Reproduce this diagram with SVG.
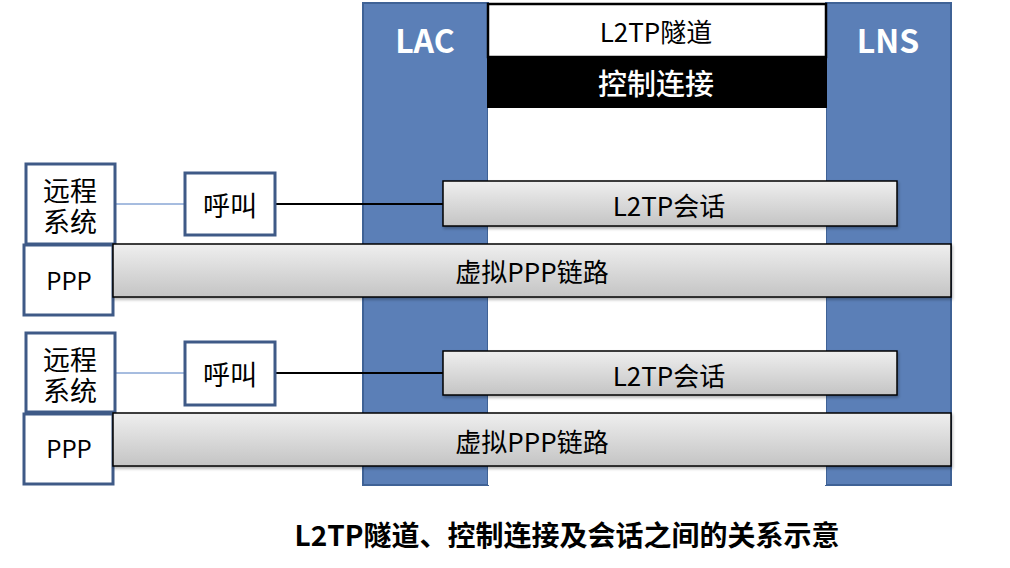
<svg xmlns="http://www.w3.org/2000/svg" width="1010" height="568" viewBox="0 0 1010 568">
<defs>
<linearGradient id="g" x1="0" y1="0" x2="0" y2="1">
<stop offset="0" stop-color="#efefef"/>
<stop offset="1" stop-color="#c4c4c4"/>
</linearGradient>
<filter id="sh" x="-5%" y="-20%" width="110%" height="150%">
<feDropShadow dx="1" dy="2" stdDeviation="1.5" flood-color="#000" flood-opacity="0.3"/>
</filter>
</defs>
<style>
text{font-family:"Noto Sans CJK SC","Noto Sans",sans-serif;text-anchor:middle;dominant-baseline:central;fill:#000}
.col{fill:#5b7fb7;stroke:#3f6296;stroke-width:2}
.box{fill:#fff;stroke:#3f5a87;stroke-width:3}
.bar{fill:url(#g);stroke:#000;stroke-width:1.5;filter:url(#sh)}
.t26{font-size:26px}
.t27{font-size:27px}
.t24{font-size:24px}
.hd{font-size:32px;font-weight:bold;fill:#fff}
</style>
<rect width="1010" height="568" fill="#fff"/>
<g id="lac"><rect class="col" x="363" y="3" width="125" height="482"/><text class="hd" x="425" y="39">LAC</text></g>
<g id="lns"><rect class="col" x="826" y="3" width="125" height="482"/><text class="hd" x="888" y="39">LNS</text></g>
<g id="middle"><rect x="488" y="108" width="338" height="377" fill="#fff"/></g>
<g id="tunnel"><rect x="488" y="4" width="338" height="53" fill="#fff" stroke="#000" stroke-width="2.5"/><text class="t26" x="656" y="30">L2TP隧道</text></g>
<g id="control"><rect x="487" y="56" width="340" height="52" fill="#000"/><text x="656" y="82" style="font-size:29px;fill:#fff;font-weight:500">控制连接</text></g>
<g id="connectors">
<line x1="115" y1="204" x2="186" y2="204" stroke="#4f7bc0" stroke-width="1"/>
<line x1="275" y1="204" x2="444" y2="204" stroke="#000" stroke-width="2"/>
<line x1="115" y1="373" x2="186" y2="373" stroke="#4f7bc0" stroke-width="1"/>
<line x1="275" y1="373" x2="444" y2="373" stroke="#000" stroke-width="2"/>
</g>
<g id="remote1"><rect class="box" x="26" y="164" width="89" height="80"/><text class="t27" x="70" y="189">远程<tspan x="70" dy="31">系统</tspan></text></g>
<g id="call1"><rect class="box" x="185" y="173" width="90" height="62"/><text class="t27" x="230" y="204">呼叫</text></g>
<g id="session1"><rect class="bar" x="443" y="181" width="454" height="45"/><text class="t26" x="669" y="204">L2TP会话</text></g>
<g id="ppp1"><rect class="box" x="24" y="245" width="89" height="70"/><text class="t24" x="69" y="279">PPP</text></g>
<g id="vlink1"><rect class="bar" x="113" y="244" width="838" height="53"/><text class="t26" x="532" y="270">虚拟PPP链路</text></g>
<g id="remote2"><rect class="box" x="26" y="333" width="89" height="79"/><text class="t27" x="70" y="358">远程<tspan x="70" dy="31">系统</tspan></text></g>
<g id="call2"><rect class="box" x="185" y="342" width="90" height="63"/><text class="t27" x="230" y="373">呼叫</text></g>
<g id="session2"><rect class="bar" x="443" y="351" width="454" height="44"/><text class="t26" x="669" y="374">L2TP会话</text></g>
<g id="ppp2"><rect class="box" x="24" y="414" width="89" height="70"/><text class="t24" x="69" y="447">PPP</text></g>
<g id="vlink2"><rect class="bar" x="113" y="413" width="838" height="53"/><text class="t26" x="532" y="440">虚拟PPP链路</text></g>
<text x="567" y="534" style="font-size:28px;font-weight:bold">L2TP隧道、控制连接及会话之间的关系示意</text>
</svg>
